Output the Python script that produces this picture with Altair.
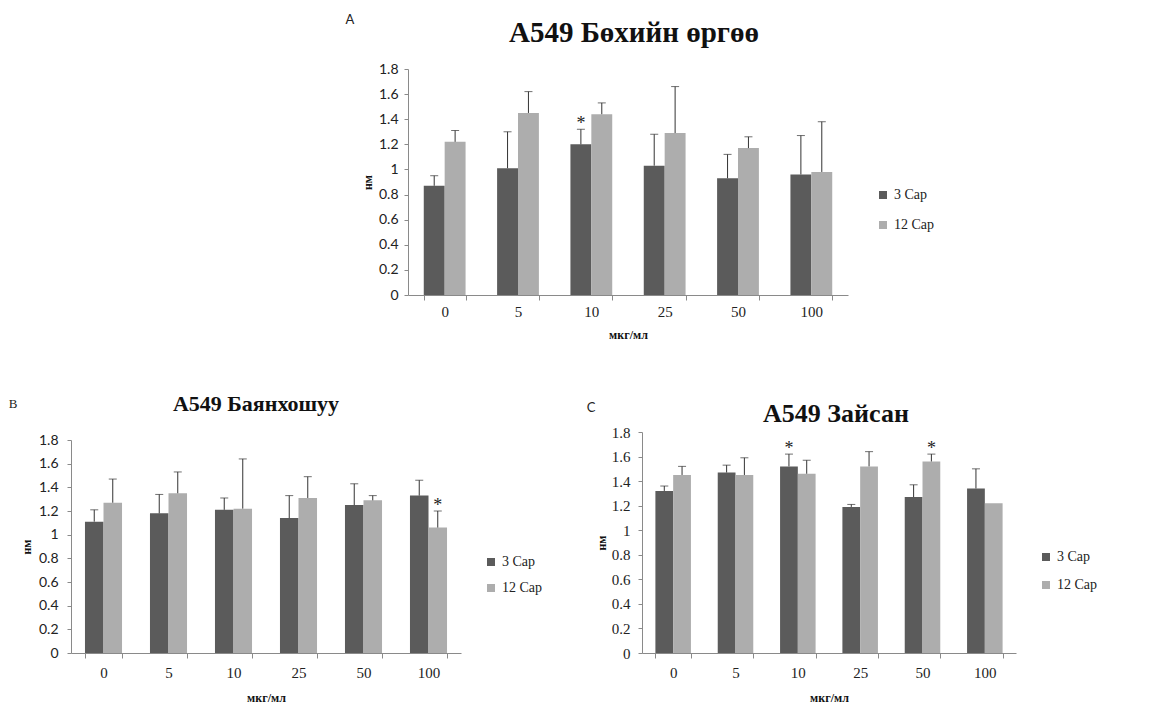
import altair as alt
import pandas as pd

doses = ["0", "5", "10", "25", "50", "100"]
series = ["3 Cap", "12 Cap"]
colors = ["#5b5b5b", "#adadad"]
y_ticks = [0, 0.2, 0.4, 0.6, 0.8, 1.0, 1.2, 1.4, 1.6, 1.8]

# Panel A: A549 Бөхийн өргөө
a_3 = [0.87, 1.01, 1.20, 1.03, 0.93, 0.96]
a_3_err = [0.95, 1.30, 1.32, 1.28, 1.12, 1.27]
a_12 = [1.22, 1.45, 1.44, 1.29, 1.17, 0.98]
a_12_err = [1.31, 1.62, 1.53, 1.66, 1.26, 1.38]
a_stars = [("10", "3 Cap")]

# Panel B: A549 Баянхошуу
b_3 = [1.11, 1.18, 1.21, 1.14, 1.25, 1.33]
b_3_err = [1.21, 1.34, 1.31, 1.33, 1.43, 1.46]
b_12 = [1.27, 1.35, 1.22, 1.31, 1.29, 1.06]
b_12_err = [1.47, 1.53, 1.64, 1.49, 1.33, 1.20]
b_stars = [("100", "12 Cap")]

# Panel C: A549 Зайсан
c_3 = [1.32, 1.47, 1.52, 1.19, 1.27, 1.34]
c_3_err = [1.36, 1.53, 1.62, 1.21, 1.37, 1.50]
c_12 = [1.45, 1.45, 1.46, 1.52, 1.56, 1.22]
c_12_err = [1.52, 1.59, 1.57, 1.64, 1.62, None]
c_stars = [("10", "3 Cap"), ("50", "12 Cap")]

SERIF = "Liberation Serif"
SANS = "Lato"


def make_df(v3, e3, v12, e12, stars):
    rows = []
    for s, vals, errs in (("3 Cap", v3, e3), ("12 Cap", v12, e12)):
        for d, v, e in zip(doses, vals, errs):
            rows.append({"dose": d, "series": s, "value": v, "err": e,
                         "star": (d, s) in stars})
    return pd.DataFrame(rows)


def panel(df, width, height, x_range, y_range, y_offset, title, title_size,
          title_dx, title_dy, ylab_font, ylab_size, ylab_pad, ytitle_pad,
          xlab_pad, xtitle_pad, letter, letter_x, letter_y,
          letter_font, leg_x, leg_y, leg_pad):
    xs = dict(domain=doses, paddingInner=0.43, paddingOuter=0.215)
    if x_range:
        xs["range"] = x_range
    x_scale = alt.Scale(**xs)
    x_axis = alt.Axis(title="мкг/мл", titleFont=SERIF, titleFontWeight="bold",
                      titleFontSize=12, titleColor="#111", titlePadding=xtitle_pad,
                      labelFont=SERIF, labelFontSize=15, labelColor="#222",
                      labelAngle=0, labelPadding=xlab_pad, tickBand="extent",
                      tickSize=5, tickColor="#8a8a8a", domainColor="#8a8a8a")
    x = alt.X("dose:N", sort=doses, scale=x_scale, axis=x_axis)
    xo = alt.XOffset("series:N", sort=series,
                     scale=alt.Scale(domain=series, paddingInner=0, paddingOuter=0))
    ys = dict(domain=[0, 1.8])
    if y_range:
        ys["range"] = y_range
    y_scale = alt.Scale(**ys)
    y_axis = alt.Axis(title="нм", titleFont=SERIF, titleFontWeight="bold",
                      titleFontSize=12, titleColor="#111", titlePadding=ytitle_pad,
                      values=y_ticks, format=".1~f", grid=False,
                      labelOverlap=False, labelFlush=False,
                      labelFont=ylab_font, labelFontSize=ylab_size,
                      labelColor="#222", labelPadding=ylab_pad, tickSize=4,
                      offset=y_offset,
                      tickColor="#8a8a8a", domainColor="#8a8a8a")
    y_val = alt.Y("value:Q", scale=y_scale, axis=y_axis)
    y_err = alt.Y("err:Q", scale=y_scale, axis=y_axis)
    color = alt.Color("series:N", sort=series,
                      scale=alt.Scale(domain=series, range=colors),
                      legend=alt.Legend(title=None, orient="none", legendX=leg_x,
                                        legendY=leg_y, symbolType="square",
                                        symbolSize=64, symbolStrokeWidth=0,
                                        labelFont=SERIF, labelFontSize=14,
                                        labelColor="#222", rowPadding=leg_pad))
    base = alt.Chart(df)
    bars = base.mark_bar().encode(x=x, xOffset=xo, y=y_val, color=color)
    eb = base.transform_filter("isValid(datum.err)")
    rules = eb.mark_rule(color="#333", strokeWidth=1).encode(
        x=x, xOffset=xo, y=y_val, y2="err:Q")
    caps = eb.mark_tick(color="#333", thickness=1, size=8, orient="horizontal").encode(
        x=x, xOffset=xo, y=y_err)
    stars = base.transform_filter("datum.star").mark_text(
        text="*", font=SERIF, fontSize=18, dy=-5, color="#222").encode(
        x=x, xOffset=xo, y=y_err)
    lab = alt.Chart(pd.DataFrame({"t": [letter]})).mark_text(
        font=letter_font, fontSize=13, color="#222", baseline="middle").encode(
        x=alt.value(letter_x), y=alt.value(letter_y), text="t:N")
    return alt.layer(bars, rules, caps, stars, lab).properties(
        width=width, height=height,
        title=alt.TitleParams(text=title, font=SERIF, fontSize=title_size,
                              fontWeight="bold", color="#111", anchor="middle",
                              frame="group", dx=title_dx, dy=title_dy, offset=22))


dfA = make_df(a_3, a_3_err, a_12, a_12_err, a_stars)
dfB = make_df(b_3, b_3_err, b_12, b_12_err, b_stars)
dfC = make_df(c_3, c_3_err, c_12, c_12_err, c_stars)

chartA = panel(dfA, 206, 226, [-234, 206], None, 234, "A549 Бөхийн өргөө", 29,
               -111, 56, SANS, 14, 6, 4, 4, 10, "A", -292, -49, SANS, 234, 119, 16)
chartB = panel(dfB, 390, 221, None, [221, 8], 0, "A549 Баянхошуу", 22,
               -10, 40, SANS, 14, 9, 5, 7, 12, "B", -58, -28, SERIF, 413, 123, 12)
chartC = panel(dfC, 374, 221, None, None, 0, "A549 Зайсан", 26,
               7, 47, SERIF, 15, 8, 3, 7, 12, "C", -51, -24, SANS, 397, 118, 14)

spacer = alt.Chart(pd.DataFrame({"s": [0]})).mark_point(opacity=0).encode(
    x=alt.value(0), y=alt.value(0)).properties(width=10, height=10)

chart = alt.concat(spacer, chartA, chartB, chartC, columns=2,
                   spacing={"row": 137, "column": 181}).properties(
    bounds="flush",
    padding={"left": 0, "top": 6, "right": 5, "bottom": 5},
    background="white").configure_view(strokeWidth=0).resolve_scale(
    x="independent", y="independent", color="independent", xOffset="independent")

chart.save("out.html", embed_options={"renderer": "svg", "actions": False})
